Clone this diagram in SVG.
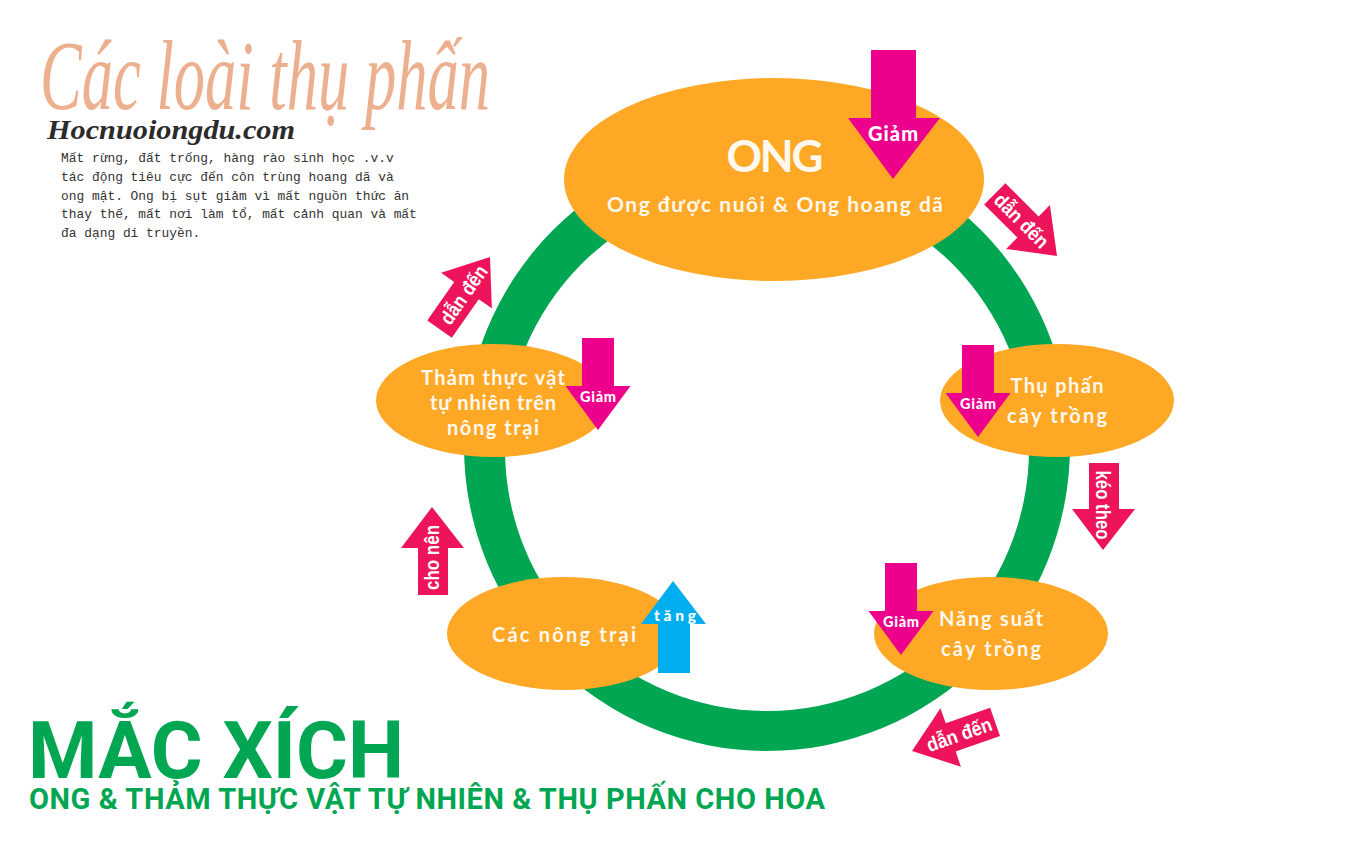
<svg xmlns="http://www.w3.org/2000/svg" width="1367" height="850" viewBox="0 0 1367 850">
<style>
.node{fill:#FFA826}
.lb{font-family:"Lato","Noto Sans",sans-serif;font-weight:700;fill:#FFF8EE;text-anchor:middle}
.gm{font-family:"Lato","Noto Sans",sans-serif;font-weight:900;fill:#FFF;text-anchor:middle}
.ar{font-family:"Liberation Sans",Arial,sans-serif;font-weight:700;fill:#FFF;text-anchor:middle;font-size:20px}
.mg{fill:#EC008C}.rd{fill:#ED145B}.bl{fill:#00AEEF}
.gr{font-family:"Roboto","Liberation Sans",sans-serif;font-weight:700;fill:#00A651}
.bd{font-family:"Liberation Mono",monospace;font-size:12.9px;fill:#333}
</style>
<defs>
<polygon id="dn" points="-16,-92 16,-92 16,-44 32.500,-44 0,0 -32.500,-44 -16,-44"/>
<polygon id="fw" points="-88,-15 -41,-15 -41,-31 0,0 -41,31 -41,15 -88,15"/>
</defs>
<rect width="1367" height="850" fill="#fff"/>
<g id="connectors">
<path id="ring" fill="#00A651" fill-rule="evenodd" d="M464,446A303,305 0 1 1 1070,446A303,305 0 1 1 464,446ZM505,449A262,262 0 1 0 1029,449A262,262 0 1 0 505,449Z"/>
</g>
<g id="heading">
<text x="40" y="109" font-family="'Liberation Serif',serif" font-style="italic" font-size="100" fill="#EDB08F" textLength="450" lengthAdjust="spacingAndGlyphs">Các loài thụ phấn</text>
<text x="47" y="139" font-family="'Liberation Serif',serif" font-weight="700" font-style="italic" font-size="28" fill="#2B2B2B" textLength="248" lengthAdjust="spacingAndGlyphs">Hocnuoiongdu.com</text>
<text class="bd" x="61" y="162">Mất rừng, đất trống, hàng rào sinh học .v.v</text>
<text class="bd" x="61" y="181">tác động tiêu cực đến côn trùng hoang dã và</text>
<text class="bd" x="61" y="200">ong mật. Ong bị sụt giảm vì mất nguồn thức ăn</text>
<text class="bd" x="61" y="218">thay thế, mất nơi làm tổ, mất cảnh quan và mất</text>
<text class="bd" x="61" y="237">đa dạng di truyền.</text>
</g>
<g id="node-ong">
<ellipse class="node" cx="774" cy="179.500" rx="210" ry="101.500"/>
<text class="lb" x="775" y="172" font-size="44" textLength="97">ONG</text>
<text class="lb" x="775" y="212" font-size="21" textLength="336">Ong được nuôi &amp; Ong hoang dã</text>
<g id="arrow-ong">
<polygon class="mg" points="871,50 916,50 916,118 940,118 893,179 848,118 871,118"/>
<text class="gm" x="893" y="141" font-size="20" textLength="50">Giảm</text>
</g>
</g>
<g id="node-tham">
<ellipse class="node" cx="493" cy="400.500" rx="117" ry="56.500"/>
<text class="lb" x="493" y="385" font-size="20" textLength="144">Thảm thực vật</text>
<text class="lb" x="493" y="410" font-size="20" textLength="126">tự nhiên trên</text>
<text class="lb" x="493" y="435" font-size="20" textLength="92">nông trại</text>
<g id="arrow-tham"><use href="#dn" class="mg" x="598" y="430"/><text class="gm" x="598" y="402" font-size="14.500" textLength="36">Giảm</text></g>
</g>
<g id="node-thu-phan">
<ellipse class="node" cx="1057" cy="400.500" rx="117" ry="56.500"/>
<text class="lb" x="1057" y="393" font-size="20" textLength="93">Thụ phấn</text>
<text class="lb" x="1057" y="423" font-size="20" textLength="100">cây trồng</text>
<g id="arrow-thu-phan"><use href="#dn" class="mg" x="978" y="437"/><text class="gm" x="978" y="409" font-size="14.500" textLength="36">Giảm</text></g>
</g>
<g id="node-nang-suat">
<ellipse class="node" cx="991" cy="633.500" rx="117" ry="56.500"/>
<text class="lb" x="991" y="626" font-size="20" textLength="104">Năng suất</text>
<text class="lb" x="991" y="656" font-size="20" textLength="100">cây trồng</text>
<g id="arrow-nang-suat"><use href="#dn" class="mg" x="901" y="655"/><text class="gm" x="901" y="627" font-size="14.500" textLength="36">Giảm</text></g>
</g>
<g id="node-nong-trai">
<ellipse class="node" cx="564" cy="633.500" rx="117" ry="56.500"/>
<text class="lb" x="564" y="642" font-size="20" textLength="144">Các nông trại</text>
<g id="arrow-nong-trai">
<polygon class="bl" points="658,673 690,673 690,624 706,624 673,581 641,624 658,624"/>
<text class="gm" x="675" y="621" font-size="15.500" textLength="42">tăng</text>
</g>
</g>
<g id="link-dan-den-1" transform="translate(1057,256) rotate(45)">
<use href="#fw" class="rd"/><text class="ar" x="-50" y="7" textLength="68" lengthAdjust="spacingAndGlyphs">dẫn đến</text>
</g>
<g id="link-keo-theo">
<polygon class="rd" points="1089,463 1119,463 1119,509 1135,509 1103,550 1072,509 1089,509"/>
<text class="ar" transform="translate(1096,505) rotate(90)" textLength="69" lengthAdjust="spacingAndGlyphs">kéo theo</text>
</g>
<g id="link-dan-den-2" transform="translate(912,751) rotate(-19.300)">
<polygon class="rd" points="88,-15 41,-15 41,-31 0,0 41,31 41,15 88,15"/>
<text class="ar" x="50" y="7" textLength="68" lengthAdjust="spacingAndGlyphs">dẫn đến</text>
</g>
<g id="link-cho-nen">
<polygon class="rd" points="418,595 448,595 448,548 464,548 432,507 401,548 418,548"/>
<text class="ar" transform="translate(439,557.500) rotate(-90)" textLength="65" lengthAdjust="spacingAndGlyphs">cho nên</text>
</g>
<g id="link-dan-den-3" transform="translate(490,257) rotate(-55)">
<use href="#fw" class="rd"/><text class="ar" x="-46" y="7" textLength="67" lengthAdjust="spacingAndGlyphs">dẫn đến</text>
</g>
<g id="title">
<text class="gr" x="28" y="778" font-size="80" textLength="376" lengthAdjust="spacingAndGlyphs">MẮC XÍCH</text>
<text class="gr" x="29" y="809" font-size="29" textLength="796">ONG &amp; THẢM THỰC VẬT TỰ NHIÊN &amp; THỤ PHẤN CHO HOA</text>
</g>
</svg>
